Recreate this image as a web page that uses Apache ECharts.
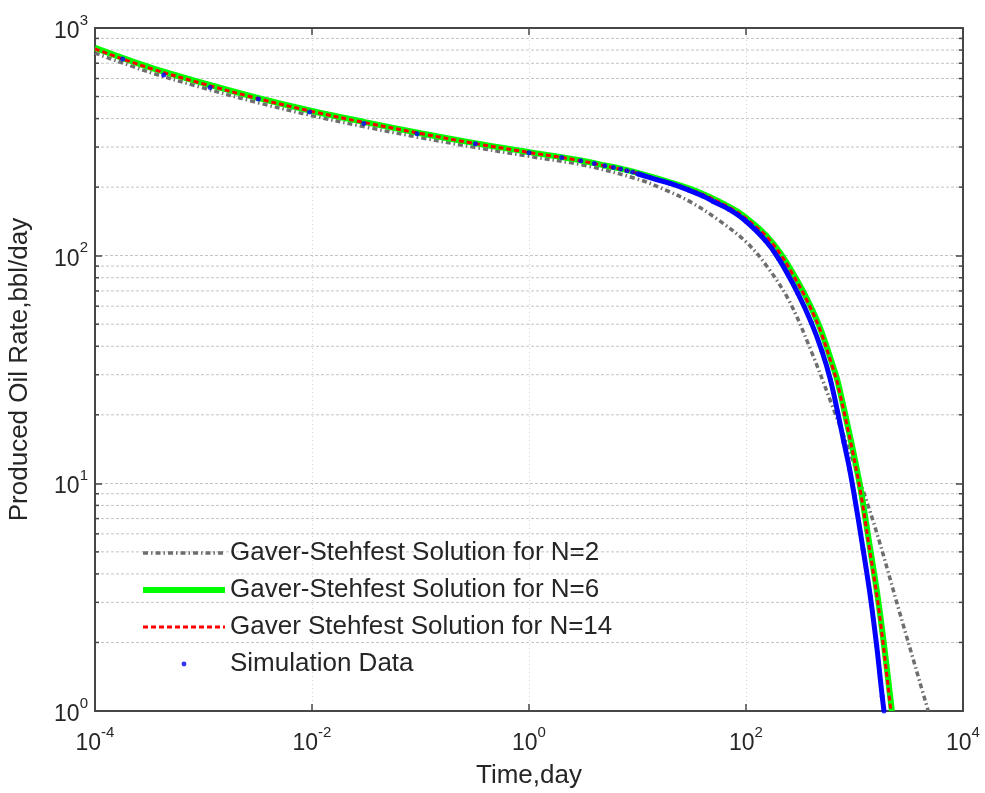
<!DOCTYPE html>
<html>
<head>
<meta charset="utf-8">
<script src="https://cdn.jsdelivr.net/npm/echarts@6/dist/echarts.min.js"></script>
<style>
  html, body { margin: 0; padding: 0; background: #ffffff; }
  #chart { width: 985px; height: 793px; }
</style>
</head>
<body>
<div id="chart"></div>
<script>
// Oil-rate decline: Gaver-Stehfest inversions for several N against simulation output

// Axis ranges (log scales)
const timeRange = [1e-4, 1e4];
const rateRange = [1, 1000];

// Minor horizontal grid positions (2..9 in every decade)
const rateMinorTicks = [2, 3, 4, 5, 6, 7, 8, 9, 20, 30, 40, 50, 60, 70, 80, 90, 200, 300, 400, 500, 600, 700, 800, 900];

// Gaver-Stehfest, N = 2
const timeN2 = [1e-4, 3.16e-4, 1e-3, 3.16e-3, 1e-2, 3.16e-2, 0.1, 0.316, 1, 3.16, 10, 17.8, 31.6, 56.2, 100, 158, 251, 398, 631, 1000, 1585, 2512, 3981, 4786];
const rateN2 = [776, 640, 545, 470, 412, 367, 330, 299, 273, 250, 217, 195, 171, 143, 115, 89, 63.1, 38.2, 21.6, 12.0, 6.17, 2.88, 1.35, 1.0];

// Gaver-Stehfest, N = 6
const timeN6 = [1e-4, 3.16e-4, 1e-3, 3.16e-3, 1e-2, 3.16e-2, 0.1, 0.316, 1, 2, 3, 4, 5, 7, 10, 18.6, 37.7, 76.4, 109, 155, 206, 273, 362, 481, 638, 710, 1084, 1365, 1694, 2210];
const rateN6 = [818, 673, 572, 493, 432, 385, 345, 312, 285, 271, 262, 255, 249, 241, 231, 212, 189, 160, 142, 122, 103, 83, 65, 48.2, 32.4, 27.3, 10.7, 5.5, 2.82, 1.0];

// Gaver-Stehfest, N = 14
const timeN14 = [1e-4, 3.16e-4, 1e-3, 3.16e-3, 1e-2, 3.16e-2, 0.1, 0.316, 1, 2, 3, 4, 5, 7, 10, 18.6, 37.7, 76.4, 109, 155, 206, 273, 362, 481, 638, 710, 1084, 1365, 1694, 2163];
const rateN14 = [809, 667, 568, 490, 430, 383, 344, 311, 284, 270, 261, 254, 248, 240, 230, 211, 188, 159, 141, 121, 102, 82, 64, 47.3, 31.6, 26.6, 10.35, 5.27, 2.69, 1.0];

// Simulation output: early log-spaced reports, then daily reports
const simTimeSparse = [1.8e-4, 4.3e-4, 1.15e-3, 3.2e-3, 9.5e-3, 0.03, 0.093, 0.32, 1, 2, 3, 4, 5, 6, 7, 8, 9];
const simRateSparse = [731, 622, 548, 488, 428, 381, 343, 310, 283, 270, 261, 254, 248, 244, 240, 236, 233];
const simTimeDense = [10, 15, 20, 30, 40, 50, 70, 100, 150, 200, 300, 400, 500, 600, 700, 800, 900, 1000, 1200, 1400, 1600, 1700, 1800, 1870];
const simRateDense = [229, 216, 207.5, 193.6, 182.7, 173, 159.6, 141.6, 117, 97, 68.5, 50.8, 38.2, 28.5, 20.5, 15.1, 11.6, 8.75, 5.13, 3.18, 1.94, 1.49, 1.16, 1.0];

const pairs = (xs, ys) => xs.map((x, i) => [x, ys[i]]);

const textColor = '#262626';
const frameColor = '#474747';
const fontFamily = '"Liberation Sans", Arial, sans-serif';

const powerLabel = (v) => {
  const e = Math.round(Math.log10(v));
  return '{b|10}{e|' + e + '}';
};
const powerRich = {
  b: { fontSize: 23, color: textColor, fontFamily: fontFamily, verticalAlign: 'bottom', lineHeight: 30 },
  e: { fontSize: 15, color: textColor, fontFamily: fontFamily, verticalAlign: 'top', lineHeight: 30 }
};

const styleN2 = { color: '#6e6e6e', width: 3.5, type: [5, 3, 1.5, 3] };
const styleN6 = { color: '#00ff00', width: 6, type: 'solid' };
const styleN14 = { color: '#ff0000', width: 3, type: [5, 3] };

const chart = echarts.init(document.getElementById('chart'), null, { renderer: 'canvas' });

chart.setOption({
  backgroundColor: '#ffffff',
  animation: false,
  grid: { left: 95, right: 22, top: 28, bottom: 82, containLabel: false, outerBoundsMode: 'none' },
  legend: {
    orient: 'vertical',
    left: 140,
    top: 539,
    padding: 0,
    itemWidth: 82,
    itemHeight: 14,
    itemGap: 9,
    textStyle: { fontSize: 26, lineHeight: 28, color: textColor, fontFamily: fontFamily },
    data: [
      { name: 'Gaver-Stehfest Solution for N=2', itemStyle: { opacity: 0 }, lineStyle: styleN2 },
      { name: 'Gaver-Stehfest Solution for N=6', itemStyle: { opacity: 0 }, lineStyle: styleN6 },
      { name: 'Gaver Stehfest Solution for N=14', itemStyle: { opacity: 0 }, lineStyle: styleN14 },
      { name: 'Simulation Data', icon: 'path://M0 0M100 16M47 8a3 3 0 1 0 6 0a3 3 0 1 0 -6 0Z' }
    ]
  },
  xAxis: [
    {
      type: 'log', logBase: 10, min: timeRange[0], max: timeRange[1], interval: 2,
      position: 'bottom',
      name: 'Time,day', nameLocation: 'middle', nameGap: 52,
      nameTextStyle: { fontSize: 26, color: textColor, fontFamily: fontFamily },
      axisLine: { show: true, lineStyle: { color: frameColor, width: 2 } },
      axisTick: { show: true, inside: true, length: 7, lineStyle: { color: frameColor, width: 1.5 } },
      axisLabel: { margin: 14, formatter: powerLabel, rich: powerRich },
      splitLine: { show: true, lineStyle: { color: '#d4d4d4', width: 1, type: [1, 3] } },
      minorTick: { show: false }, minorSplitLine: { show: false }
    },
    {
      type: 'log', logBase: 10, min: timeRange[0], max: timeRange[1], interval: 2,
      position: 'top',
      axisLine: { show: true, lineStyle: { color: frameColor, width: 2 } },
      axisTick: { show: true, inside: true, length: 7, lineStyle: { color: frameColor, width: 1.5 } },
      axisLabel: { show: false },
      splitLine: { show: false }
    }
  ],
  yAxis: [
    {
      type: 'log', logBase: 10, min: rateRange[0], max: rateRange[1], interval: 1,
      position: 'left',
      name: 'Produced Oil Rate,bbl/day', nameLocation: 'middle', nameGap: 62,
      nameTextStyle: { fontSize: 26, color: textColor, fontFamily: fontFamily },
      axisLine: { show: true, lineStyle: { color: frameColor, width: 2 } },
      axisTick: { show: true, inside: true, length: 7, lineStyle: { color: frameColor, width: 1.5 } },
      axisLabel: { margin: 7, formatter: powerLabel, rich: powerRich },
      splitLine: { show: true, lineStyle: { color: '#c4c4c4', width: 1, type: [3, 2] } }
    },
    {
      type: 'log', logBase: 10, min: rateRange[0], max: rateRange[1], interval: 1,
      position: 'right',
      axisLine: { show: true, lineStyle: { color: frameColor, width: 2 } },
      axisTick: { show: true, inside: true, length: 7, lineStyle: { color: frameColor, width: 1.5 } },
      axisLabel: { show: false },
      splitLine: { show: false }
    }
  ],
  series: [
    {
      // minor horizontal grid plus inward minor ticks on both sides
      type: 'custom',
      name: 'minor-grid',
      silent: true,
      z: 1,
      xAxisIndex: 0, yAxisIndex: 0,
      clip: false,
      data: rateMinorTicks.map(v => [timeRange[0], v]),
      encode: { x: 0, y: 1 },
      renderItem: (params, api) => {
        const v = api.value(1);
        const a = api.coord([timeRange[0], v]);
        const b = api.coord([timeRange[1], v]);
        return {
          type: 'group',
          children: [
            { type: 'line', shape: { x1: a[0] + 1, y1: a[1], x2: b[0] - 1, y2: b[1] },
              style: { stroke: '#c4c4c4', lineWidth: 1, lineDash: [3, 2] } },
            { type: 'line', shape: { x1: a[0], y1: a[1], x2: a[0] + 4, y2: a[1] },
              style: { stroke: frameColor, lineWidth: 1.5 } },
            { type: 'line', shape: { x1: b[0] - 4, y1: b[1], x2: b[0], y2: b[1] },
              style: { stroke: frameColor, lineWidth: 1.5 } }
          ]
        };
      }
    },
    {
      name: 'Gaver-Stehfest Solution for N=2',
      type: 'line', symbol: 'none', smooth: 0.35, z: 3,
      data: pairs(timeN2, rateN2),
      lineStyle: styleN2,
      itemStyle: { color: styleN2.color }
    },
    {
      name: 'Gaver-Stehfest Solution for N=6',
      type: 'line', symbol: 'none', smooth: 0.35, z: 4,
      data: pairs(timeN6, rateN6),
      lineStyle: styleN6,
      itemStyle: { color: styleN6.color }
    },
    {
      name: 'Gaver Stehfest Solution for N=14',
      type: 'line', symbol: 'none', smooth: 0.35, z: 5,
      data: pairs(timeN14, rateN14),
      lineStyle: styleN14,
      itemStyle: { color: styleN14.color }
    },
    {
      name: 'Simulation Data',
      type: 'scatter', symbol: 'circle', symbolSize: 5, z: 6,
      data: pairs(simTimeSparse, simRateSparse).concat(pairs(simTimeDense, simRateDense)),
      itemStyle: { color: '#0000ff' }
    },
    {
      // daily reports are packed so tightly that they merge into a band
      name: 'simulation-daily',
      type: 'line', symbol: 'none', smooth: 0.35, z: 6,
      data: pairs(simTimeDense, simRateDense),
      lineStyle: { color: '#0000ff', width: 5 }
    }
  ]
});
</script>
</body>
</html>
